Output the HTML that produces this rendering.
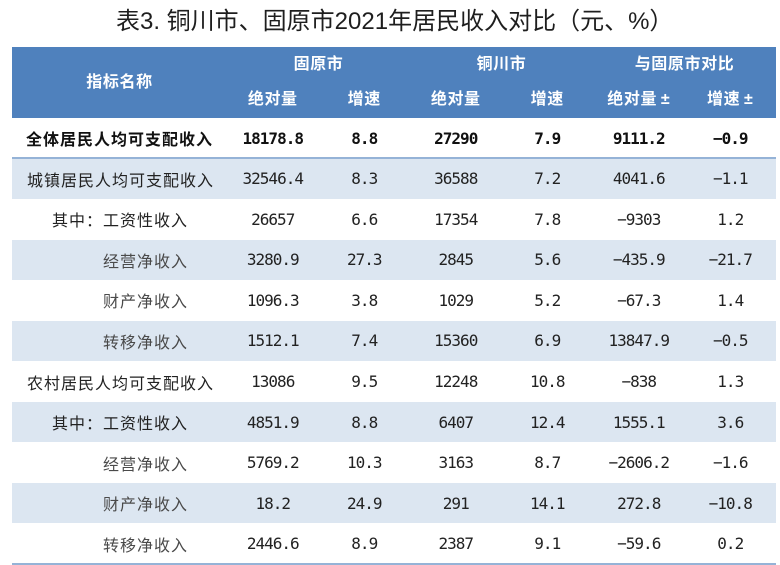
<!DOCTYPE html>
<html><head><meta charset="utf-8">
<style>
html,body{margin:0;padding:0;background:#fff;}
body{width:780px;height:565px;position:relative;overflow:hidden;font-family:"Liberation Sans","Noto Sans CJK SC",sans-serif;}
.title{position:absolute;left:116px;top:6px;font-size:24px;line-height:32px;color:#1e1e1e;white-space:nowrap;font-family:"Liberation Sans","Noto Sans CJK SC",sans-serif;}
.hdr{position:absolute;left:12px;top:47px;width:764px;height:71px;background:#4f81bd;}
.h{position:absolute;color:#fff;font-weight:700;font-size:16px;letter-spacing:0.6px;text-align:center;white-space:nowrap;font-family:"Liberation Sans","Noto Sans CJK SC",sans-serif;}
.row{position:absolute;left:12px;width:764px;height:40.55px;}
.row.b{background:#dce6f1;}
.c{position:absolute;top:0;height:100%;display:flex;align-items:center;justify-content:center;white-space:nowrap;font-family:"DejaVu Sans Mono",monospace;font-size:16px;letter-spacing:-1px;color:#222;}
.lab{position:absolute;top:0;height:100%;display:flex;align-items:center;white-space:nowrap;font-family:"Liberation Sans","Noto Sans CJK SC",sans-serif;font-size:16px;letter-spacing:1px;color:#222;}
.sub{color:#4a4a4a;}
.bold .c,.bold .lab{font-weight:700;color:#111;}
.c1{left:215px;width:91.5px}.c2{left:306.5px;width:91.5px}.c3{left:398px;width:91.5px}
.c4{left:489.5px;width:91.5px}.c5{left:581px;width:91.5px}.c6{left:672.5px;width:91.5px}
.line{position:absolute;left:12px;width:764px;height:2px;background:#95b3d7;}
</style></head><body>
<div class="title">表3. 铜川市、固原市2021年居民收入对比（元、%）</div>

<div class="hdr">
  <div class="h" style="left:0;width:215px;top:24px;line-height:24px;">指标名称</div>
  <div class="h" style="left:215px;width:183px;top:6px;line-height:24px;">固原市</div>
  <div class="h" style="left:398px;width:183px;top:6px;line-height:24px;">铜川市</div>
  <div class="h" style="left:581px;width:183px;top:6px;line-height:24px;">与固原市对比</div>
  <div class="h" style="left:215px;width:91.5px;top:41px;line-height:24px;">绝对量</div>
  <div class="h" style="left:306.5px;width:91.5px;top:41px;line-height:24px;">增速</div>
  <div class="h" style="left:398px;width:91.5px;top:41px;line-height:24px;">绝对量</div>
  <div class="h" style="left:489.5px;width:91.5px;top:41px;line-height:24px;">增速</div>
  <div class="h" style="left:581px;width:91.5px;top:41px;line-height:24px;">绝对量&#8201;±</div>
  <div class="h" style="left:672.5px;width:91.5px;top:41px;line-height:24px;">增速&#8201;±</div>
</div>

<div class="row bold" style="top:118px;">
  <div class="lab" style="left:14px;">全体居民人均可支配收入</div>
  <div class="c c1">18178.8</div><div class="c c2">8.8</div><div class="c c3">27290</div><div class="c c4">7.9</div><div class="c c5">9111.2</div><div class="c c6">−0.9</div>
</div>
<div class="row b" style="top:158.5px;">
  <div class="lab" style="left:15px;">城镇居民人均可支配收入</div>
  <div class="c c1">32546.4</div><div class="c c2">8.3</div><div class="c c3">36588</div><div class="c c4">7.2</div><div class="c c5">4041.6</div><div class="c c6">−1.1</div>
</div>
<div class="line" style="top:157px;"></div>
<div class="row" style="top:199.1px;">
  <div class="lab" style="left:40px;">其中：工资性收入</div>
  <div class="c c1">26657</div><div class="c c2">6.6</div><div class="c c3">17354</div><div class="c c4">7.8</div><div class="c c5">−9303</div><div class="c c6">1.2</div>
</div>
<div class="row b" style="top:239.6px;">
  <div class="lab sub" style="left:91px;">经营净收入</div>
  <div class="c c1">3280.9</div><div class="c c2">27.3</div><div class="c c3">2845</div><div class="c c4">5.6</div><div class="c c5">−435.9</div><div class="c c6">−21.7</div>
</div>
<div class="row" style="top:280.2px;">
  <div class="lab sub" style="left:91px;">财产净收入</div>
  <div class="c c1">1096.3</div><div class="c c2">3.8</div><div class="c c3">1029</div><div class="c c4">5.2</div><div class="c c5">−67.3</div><div class="c c6">1.4</div>
</div>
<div class="row b" style="top:320.7px;">
  <div class="lab sub" style="left:91px;">转移净收入</div>
  <div class="c c1">1512.1</div><div class="c c2">7.4</div><div class="c c3">15360</div><div class="c c4">6.9</div><div class="c c5">13847.9</div><div class="c c6">−0.5</div>
</div>
<div class="row" style="top:361.3px;">
  <div class="lab" style="left:15px;">农村居民人均可支配收入</div>
  <div class="c c1">13086</div><div class="c c2">9.5</div><div class="c c3">12248</div><div class="c c4">10.8</div><div class="c c5">−838</div><div class="c c6">1.3</div>
</div>
<div class="row b" style="top:401.8px;">
  <div class="lab" style="left:40px;">其中：工资性收入</div>
  <div class="c c1">4851.9</div><div class="c c2">8.8</div><div class="c c3">6407</div><div class="c c4">12.4</div><div class="c c5">1555.1</div><div class="c c6">3.6</div>
</div>
<div class="row" style="top:442.4px;">
  <div class="lab sub" style="left:91px;">经营净收入</div>
  <div class="c c1">5769.2</div><div class="c c2">10.3</div><div class="c c3">3163</div><div class="c c4">8.7</div><div class="c c5">−2606.2</div><div class="c c6">−1.6</div>
</div>
<div class="row b" style="top:482.9px;">
  <div class="lab sub" style="left:91px;">财产净收入</div>
  <div class="c c1">18.2</div><div class="c c2">24.9</div><div class="c c3">291</div><div class="c c4">14.1</div><div class="c c5">272.8</div><div class="c c6">−10.8</div>
</div>
<div class="row" style="top:523.5px;">
  <div class="lab sub" style="left:91px;">转移净收入</div>
  <div class="c c1">2446.6</div><div class="c c2">8.9</div><div class="c c3">2387</div><div class="c c4">9.1</div><div class="c c5">−59.6</div><div class="c c6">0.2</div>
</div>
<div class="line" style="top:563px;"></div>
</body></html>
